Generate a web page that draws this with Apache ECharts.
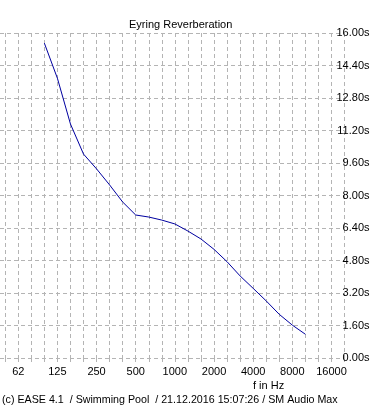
<!DOCTYPE html>
<html>
<head>
<meta charset="utf-8">
<script src="https://cdn.jsdelivr.net/npm/echarts@6/dist/echarts.min.js"></script>
<style>
html,body{margin:0;padding:0;background:#fff;}
#c{width:370px;height:411px;}
</style>
</head>
<body>
<div id="c"></div>
<script>
// 1/3-octave band centre frequencies (Hz)
const bandFreqs = [100,125,160,200,250,315,400,500,630,800,1000,1250,1600,2000,2500,3150,4000,5000,6300,8000,10000];
// Eyring reverberation time (s)
const rtValues = [15.50,13.77,11.52,10.04,9.31,8.52,7.68,7.04,6.94,6.79,6.60,6.25,5.86,5.35,4.74,4.04,3.43,2.81,2.15,1.62,1.17];
// octave tick labels (Hz)
const xTickLabels = ['62','125','250','500','1000','2000','4000','8000','16000'];
const chartTitle = 'Eyring Reverberation';
const xAxisName = 'f in Hz';
const footerText = '(c) EASE 4.1  / Swimming Pool  / 21.12.2016 15:07:26 / SM Audio Max';

const FONT = 'Liberation Sans';
// x position: third-octave band index relative to 62.5 Hz
const bandIndex = f => Math.round(3 * Math.log2(f / 62.5));
const seriesData = bandFreqs.map((f, i) => [bandIndex(f), rtValues[i]]);

// third-octave grid positions and octave label positions
const thirdOctTicks = [];
for (let i = -1; i <= 25; i++) thirdOctTicks.push(i);
const octaveTicks = xTickLabels.map((_, i) => i * 3);

const chart = echarts.init(document.getElementById('c'), null, {renderer: 'canvas'});
const gridStyle = {color: '#b4b4b4', width: 1, type: [4, 3]};
chart.setOption({
  backgroundColor: '#ffffff',
  animation: false,
  title: {
    text: chartTitle,
    left: 124, top: 14,
    textStyle: {fontFamily: FONT, fontSize: 11, fontWeight: 'normal', color: '#000'}
  },
  graphic: [
    {type: 'text', left: 253, top: 380,
     style: {text: xAxisName, font: '11px "Liberation Sans"', fill: '#000'}},
    {type: 'text', left: 2, top: 395,
     style: {text: footerText, font: '10.7px "Liberation Sans"', fill: '#000'}}
  ],
  grid: {left: 0, top: 33, width: 344.5, height: 325, containLabel: false, outerBoundsMode: 'none'},
  xAxis: {
    type: 'value', min: -1.4, max: 25,
    axisLine: {show: false},
    axisTick: {show: true, length: 4, inside: false, lineStyle: gridStyle, customValues: thirdOctTicks},
    splitLine: {show: true, lineStyle: gridStyle},
    axisLabel: {
      margin: 8, fontFamily: FONT, fontSize: 11, color: '#000',
      customValues: octaveTicks,
      formatter: v => xTickLabels[Math.round(v / 3)]
    }
  },
  yAxis: {
    type: 'value', position: 'right', min: 0, max: 16, interval: 1.6,
    axisLine: {show: false},
    axisTick: {show: false},
    splitLine: {show: true, lineStyle: gridStyle},
    axisLabel: {
      margin: 25, align: 'right', fontFamily: FONT, fontSize: 11, color: '#000',
      formatter: v => v.toFixed(2) + 's'
    }
  },
  series: [{
    type: 'line', data: seriesData, symbol: 'none',
    lineStyle: {color: '#0000a0', width: 1}
  }]
});
</script>
</body>
</html>
